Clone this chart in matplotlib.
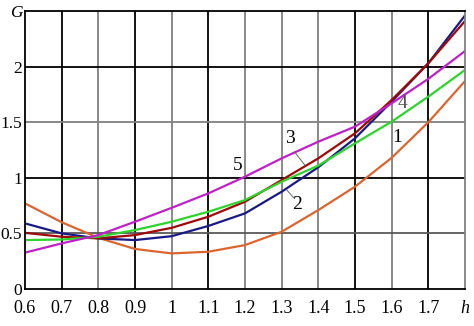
import numpy as np
import matplotlib
matplotlib.use('Agg')
from matplotlib import pyplot as plt

plt.rcParams['font.family'] = 'serif'
plt.rcParams['font.serif'] = ['Liberation Serif', 'Times New Roman', 'DejaVu Serif']

# h values and the five G curves
h = [0.6, 0.7, 0.8, 0.9, 1.0, 1.1, 1.2, 1.3, 1.4, 1.5, 1.6, 1.7, 1.8]
g1 = [0.77, 0.60, 0.46, 0.36, 0.32, 0.335, 0.395, 0.515, 0.71, 0.92, 1.18, 1.50, 1.87]
g2 = [0.59, 0.50, 0.455, 0.44, 0.475, 0.567, 0.68, 0.875, 1.095, 1.355, 1.685, 2.03, 2.46]
g3 = [0.505, 0.47, 0.455, 0.485, 0.55, 0.65, 0.785, 0.98, 1.175, 1.40, 1.70, 2.03, 2.41]
g4 = [0.44, 0.445, 0.47, 0.53, 0.605, 0.695, 0.80, 0.965, 1.11, 1.31, 1.505, 1.73, 1.97]
g5 = [0.327, 0.41, 0.485, 0.605, 0.73, 0.86, 1.01, 1.175, 1.325, 1.46, 1.67, 1.89, 2.14]

xticks = [0.6, 0.7, 0.8, 0.9, 1.0, 1.1, 1.2, 1.3, 1.4, 1.5, 1.6, 1.7, 1.8]
xticklabels = ['0.6', '0.7', '0.8', '0.9', '1', '1.1', '1.2', '1.3', '1.4',
               '1.5', '1.6', '1.7', 'h']
yticks = [0, 0.5, 1, 1.5, 2, 2.5]
yticklabels = ['0', '0.5', '1', '1.5', '2', 'G']

fig = plt.figure(figsize=(4.74, 3.26), dpi=100)
ax = fig.add_axes([25/474, 1-289/326, 440/474, 278/326])

# grid: mix of black and gray lines as in the scan
vcols = ['k', '0.5', 'k', '0.5', 'k', '0.5', '0.5', '0.5', 'k', '0.5', 'k']
for x, c in zip(xticks[1:-1], vcols):
    ax.axvline(x, color=c, lw=1.3, zorder=0)
hcols = ['0.35', 'k', '0.5', 'k']
for y, c in zip(yticks[1:-1], hcols):
    ax.axhline(y, color=c, lw=1.3, zorder=0)

ax.plot(h, g1, color='#DB6530', lw=1.6)
ax.plot(h, g2, color='#1A1A85', lw=1.6)
ax.plot(h, g3, color='#A00808', lw=1.6)
ax.plot(h, g4, color='#2CD42C', lw=1.6)
ax.plot(h, g5, color='#C020C8', lw=1.6)

ax.text(1.614, 1.36, '1', fontsize=14, ha='center', va='center')
ax.text(1.341, 0.76, '2', fontsize=14, ha='center', va='center')
ax.text(1.322, 1.35, '3', fontsize=14, ha='center', va='center')
ax.text(1.629, 1.67, '4', fontsize=14, ha='center', va='center', color='0.3')
ax.text(1.180, 1.115, '5', fontsize=14, ha='center', va='center')
ax.plot([1.314, 1.333], [0.89, 0.82], color='0.4', lw=0.7)
ax.plot([1.336, 1.363], [1.23, 1.115], color='0.4', lw=0.7)

ax.set_xlim(0.6, 1.8)
ax.set_ylim(0, 2.5)
ax.set_xticks(xticks)
ax.set_xticklabels(xticklabels, fontsize=13)
ax.set_yticks(yticks)
ax.set_yticklabels(yticklabels, fontsize=12.5)
ax.get_xticklabels()[-1].set_fontstyle('italic')
ax.get_yticklabels()[-1].set_fontstyle('italic')
ax.tick_params(axis='x', length=0, pad=8)
ax.tick_params(axis='y', length=0, pad=2)
for s in ['left', 'bottom', 'top']:
    ax.spines[s].set_color('k')
    ax.spines[s].set_linewidth(1.3)
ax.spines['right'].set_color('0.5')
ax.spines['right'].set_linewidth(1.3)

fig.savefig('out.png', dpi=100)
